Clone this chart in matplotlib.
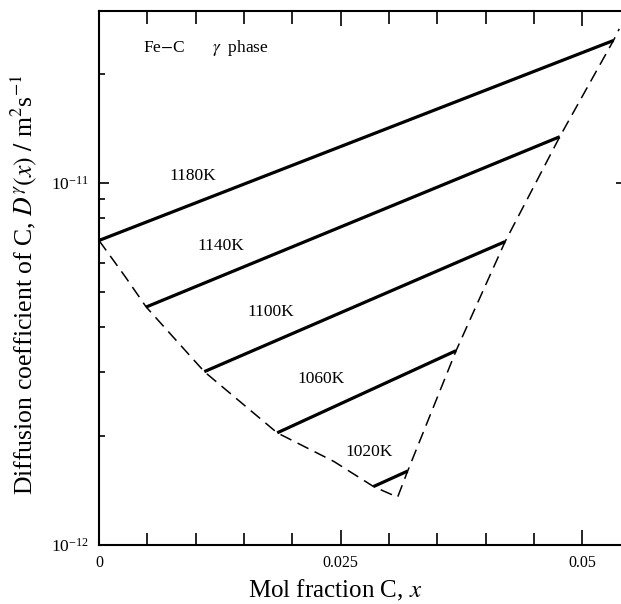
import matplotlib
matplotlib.use('Agg')
import matplotlib.pyplot as plt
from matplotlib.ticker import MultipleLocator, LogLocator, NullFormatter

plt.rcParams['font.family'] = ['Liberation Serif', 'DejaVu Serif']
plt.rcParams['mathtext.fontset'] = 'stix'

# ------------------------------------------------------------ DATA
temperaturas = ['1180K', '1140K', '1100K', '1060K', '1020K']

# isotermas: (x inicial, x final) y (D inicial, D final)
x_ini = [0.0, 0.00488, 0.01089, 0.01843, 0.02839]
x_fin = [0.0532, 0.04765, 0.0420, 0.03693, 0.03192]
d_ini = [6.93e-12, 4.54e-12, 3.01e-12, 2.04e-12, 1.45e-12]
d_fin = [2.47e-11, 1.34e-11, 6.88e-12, 3.44e-12, 1.60e-12]

# limite de fase (linea discontinua)
x_limite = [0.0, 0.0027, 0.00488, 0.01089, 0.01843, 0.0243, 0.02839, 0.03088,
            0.03192, 0.03693, 0.0420, 0.04765, 0.0532, 0.0538]
d_limite = [6.93e-12, 5.51e-12, 4.54e-12, 3.01e-12, 2.04e-12, 1.70e-12, 1.45e-12, 1.355e-12,
            1.60e-12, 3.44e-12, 6.88e-12, 1.34e-11, 2.47e-11, 2.66e-11]

# posicion de las etiquetas
x_etiqueta = [0.00972, 0.01265, 0.01774, 0.02300, 0.02794]
d_etiqueta = [1.041e-11, 6.67e-12, 4.41e-12, 2.87e-12, 1.81e-12]

xticks = [0, 0.025, 0.05]
xticklabels = ['0', '0.025', '0.05']
yticks = [1e-12, 1e-11]
# ------------------------------------------------------------ FIN DATA

fig = plt.figure(figsize=(6.21, 6.04), dpi=100)
ax = fig.add_axes([99/621, 59/604, 527/621, 534/604])

for i in range(len(temperaturas)):
    ax.plot([x_ini[i], x_fin[i]], [d_ini[i], d_fin[i]], color='black', lw=2.3,
            solid_capstyle='butt')
    ax.text(x_etiqueta[i], d_etiqueta[i], temperaturas[i], fontsize=12.5,
            ha='center', va='center')

ax.plot(x_limite, d_limite, color='black', lw=1.1, ls=(0, (8, 4.5)))

ax.set_yscale('log')
ax.set_xlim(0, 0.0545)
ax.set_ylim(1e-12, 2.98e-11)

ax.set_xticks(xticks)
ax.set_xticklabels(xticklabels)
ax.xaxis.set_minor_locator(MultipleLocator(0.005))
ax.set_yticks(yticks)
ax.yaxis.set_minor_locator(LogLocator(base=10, subs=range(2, 10)))
ax.yaxis.set_minor_formatter(NullFormatter())

ax.tick_params(axis='x', which='major', direction='in', length=11, width=1.2,
               top=True, labelsize=11.5, pad=7)
ax.tick_params(axis='x', which='minor', direction='in', length=9, width=1.2, top=True)
ax.tick_params(axis='y', which='major', direction='in', length=7, width=1.2,
               right=True, labelsize=12.5, pad=7)
ax.tick_params(axis='y', which='minor', direction='in', length=4.5, width=1.2, right=False)
for s in ax.spines.values():
    s.set_linewidth(1.5)

ax.text(0.083, 0.931, 'Fe$-$C', transform=ax.transAxes, fontsize=12.5, ha='left', va='center')
ax.text(0.214, 0.931, r'$\gamma$  phase', transform=ax.transAxes, fontsize=12.5,
        ha='left', va='center')

ax.set_xlabel('Mol fraction C, $x$', fontsize=18)
ax.xaxis.set_label_coords(0.449, -0.061)
ax.set_ylabel(r'Diffusion coefficient of C, $D^{\gamma}(x)$ $/$ m$^{2}$s$^{-1}$', fontsize=18.5)
ax.yaxis.set_label_coords(-0.114, 0.487)

plt.savefig('out.png', dpi=100)
